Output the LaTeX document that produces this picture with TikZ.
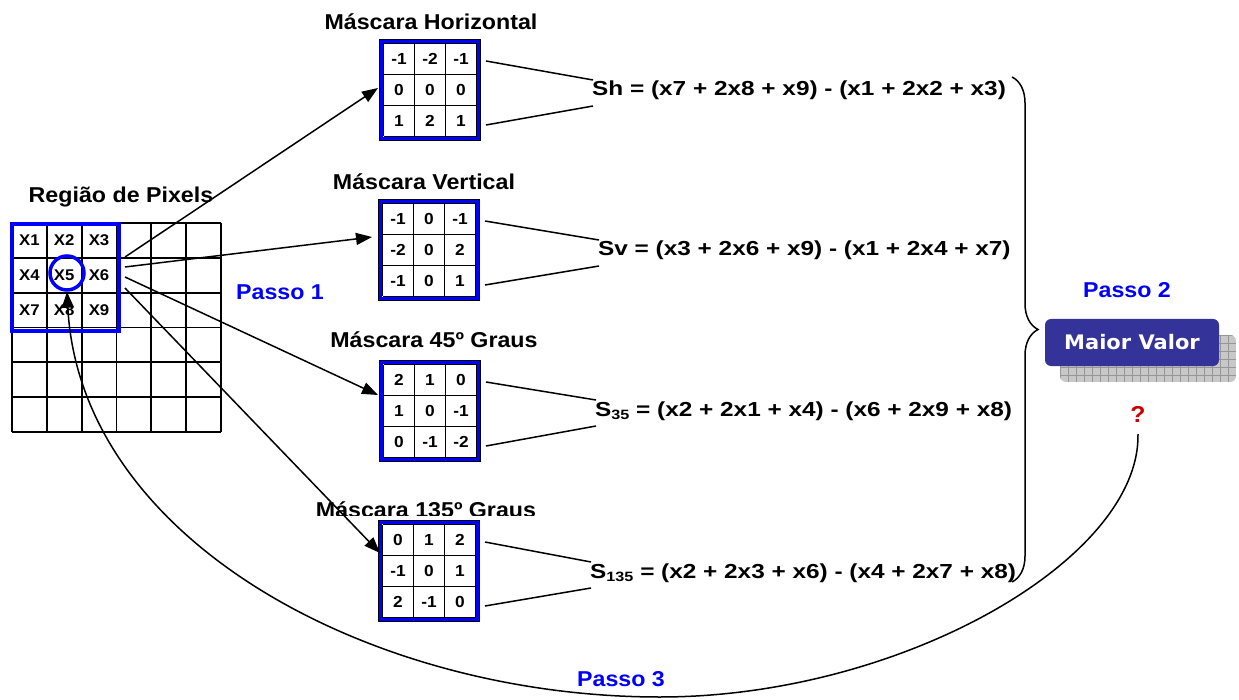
\documentclass[tikz,border=0pt]{standalone}
\usepackage{fontspec}
\setmainfont{Liberation Sans}[FakeStretch=1.08]
\newfontfamily\formfont{Liberation Sans}[FakeStretch=1.2]
\newfontfamily\boxfont{DejaVu Sans}[FakeStretch=1.05]
\usetikzlibrary{arrows.meta,decorations.pathreplacing,calc}
\definecolor{pblue}{RGB}{0,0,255}
\definecolor{boxblue}{RGB}{51,51,153}
\definecolor{qred}{RGB}{204,0,0}
\definecolor{shadegray}{RGB}{200,200,200}
\definecolor{shadeline}{RGB}{150,150,150}

\tikzset{
  title/.style={font=\fontsize{21.5}{24}\selectfont\bfseries, inner sep=0pt, anchor=base},
  formula/.style={font=\formfont\fontsize{20.3}{22}\selectfont\bfseries, anchor=base west, inner sep=0pt},
  passo/.style={font=\fontsize{21.5}{24}\selectfont\bfseries, text=pblue, inner sep=0pt, anchor=base},
  pixlabel/.style={font=\fontsize{15.5}{16}\selectfont\bfseries, inner sep=0pt},
  masknum/.style={font=\fontsize{16}{16}\selectfont\bfseries, inner sep=0pt},
  conn/.style={line width=1.5pt},
  arr/.style={line width=1.5pt, -{Triangle[length=16pt,width=12pt]}},
}

% 3x3 convolution mask: name, centre x, centre y, the nine weights
\newcommand\drawmask[4]{%
  \coordinate (#1) at (#2,#3);
  \draw[pblue, line width=3.5pt] (#2-48.75,#3-48.75) rectangle (#2+48.75,#3+48.75);
  \draw[line width=0.8pt] (#2-50.5,#3-50.5) rectangle (#2+50.5,#3+50.5);
  \foreach \k in {0,1,2,3} {
    \draw[line width=1.6pt] (#2-46.5+31*\k,#3-46.5) -- ++(0,93);
    \draw[line width=1.6pt] (#2-46.5,#3-46.5+31*\k) -- ++(93,0);
  }
  \foreach \v [count=\i from 0] in {#4} {
    \pgfmathtruncatemacro\cc{mod(\i,3)}
    \pgfmathtruncatemacro\rr{div(\i,3)}
    \node[masknum] (#1-\i) at (#2-31+31*\cc,#3-31+31*\rr) {\v};
  }
}

\begin{document}
\begin{tikzpicture}[x=1pt,y=-1pt]
\useasboundingbox (0,0) rectangle (1239,700);

% pixel region: 6x6 grid
\foreach \k in {0,...,6} {
  \draw[line width=1.8pt] (12+34.83*\k,223) -- (12+34.83*\k,432);
  \draw[line width=1.8pt] (12,223+34.83*\k) -- (221,223+34.83*\k);
}
\draw[pblue, line width=4pt] (12,224) rectangle (119,331);
\node[title] (regiao) at (121,203) {Região de Pixels};
\foreach \lab [count=\i from 0] in {X1,X2,X3,X4,X5,X6,X7,X8,X9} {
  \pgfmathtruncatemacro\cc{mod(\i,3)}
  \pgfmathtruncatemacro\rr{div(\i,3)}
  \node[pixlabel] (p\i) at (29.4+34.83*\cc,240.4+34.83*\rr) {\lab};
}
\node[circle, draw=pblue, line width=3.5pt, minimum size=34pt, inner sep=0pt] (c5) at (67,273) {};

% masks
\node[title] (tH) at (431,30) {Máscara Horizontal};
\drawmask{mH}{430}{90}{-1,-2,-1,0,0,0,1,2,1}
\node[title] (tV) at (424,190) {Máscara Vertical};
\drawmask{mV}{429}{250}{-1,0,-1,-2,0,2,-1,0,1}
\node[title] (t45) at (434,348) {Máscara 45º Graus};
\drawmask{mD}{430}{411}{2,1,0,1,0,-1,0,-1,-2}
\begin{scope}
  \clip (280,480) rectangle (580,515);
  \node[title] (t135) at (426,517) {Máscara 135º Graus};
\end{scope}
\drawmask{mA}{429}{571}{0,1,2,-1,0,1,2,-1,0}

% formulas
\node[formula] (fH) at (592,96) {Sh = (x7 + 2x8 + x9) - (x1 + 2x2 + x3)};
\node[formula] (fV) at (598,256) {Sv = (x3 + 2x6 + x9) - (x1 + 2x4 + x7)};
\node[formula] (fD) at (595,416) {S\raisebox{-0.3ex}{\fontsize{13.5}{13}\selectfont 35} = (x2 + 2x1 + x4) - (x6 + 2x9 + x8)};
\node[formula] (fA) at (590,578) {S\raisebox{-0.3ex}{\fontsize{13.5}{13}\selectfont 135} = (x2 + 2x3 + x6) - (x4 + 2x7 + x8)};

\foreach \m/\f in {mH/fH,mV/fV,mD/fD,mA/fA} {
  \draw[conn] ($(\m)+(56,-29)$) -- ($(\f.base west)+(1,-16)$);
  \draw[conn] ($(\m)+(56,35)$) -- ($(\f.base west)+(1,10)$);
}

% step 1 arrows
\coordinate (s1) at (125,257);
\coordinate (s2) at (125,267);
\coordinate (s3) at (125,277);
\coordinate (s4) at (125,288);
\draw[arr] (s1) -- ($(mH)+(-52,-2)$);
\draw[arr] (s2) -- ($(mV)+(-57,-13)$);
\draw[arr] (s3) -- ($(mD)+(-52,-16)$);
\draw[arr] (s4) -- ($(mA)+(-49,-18)$);
\node[passo] (passo1) at (280,300) {Passo 1};

% step 2
\draw[line width=1.5pt, decorate, decoration={brace, amplitude=26pt}] (1012,77) -- (1012,582);
\node[passo] (passo2) at (1127,298) {Passo 2};
\begin{scope}
  \clip[rounded corners=6pt] (1060,335) rectangle (1236,382);
  \fill[shadegray] (1060,335) rectangle (1236,382);
  \foreach \k in {0,...,22} \draw[shadeline, line width=0.6pt] (1060+8*\k,335) -- ++(0,47);
  \foreach \k in {0,...,6} \draw[shadeline, line width=0.6pt] (1060,335+8*\k) -- ++(176,0);
\end{scope}
\node[fill=boxblue, rounded corners=6pt, minimum width=174pt, minimum height=47pt, inner sep=0pt,
      text=white, font=\boxfont\fontsize{20}{22}\selectfont\bfseries] (maior) at (1132,342.5) {Maior Valor};
\node[font=\fontsize{23}{24}\selectfont\bfseries, text=qred, inner sep=0pt, anchor=base] (q) at (1138,422) {?};

% step 3
\draw[arr] ($(q.south)+(0,12)$) .. controls (1140,560) and (900,697) .. (660,697)
  .. controls (370,697) and (80,540) .. (c5.south);
\node[passo] (passo3) at (621,686) {Passo 3};
\end{tikzpicture}
\end{document}
